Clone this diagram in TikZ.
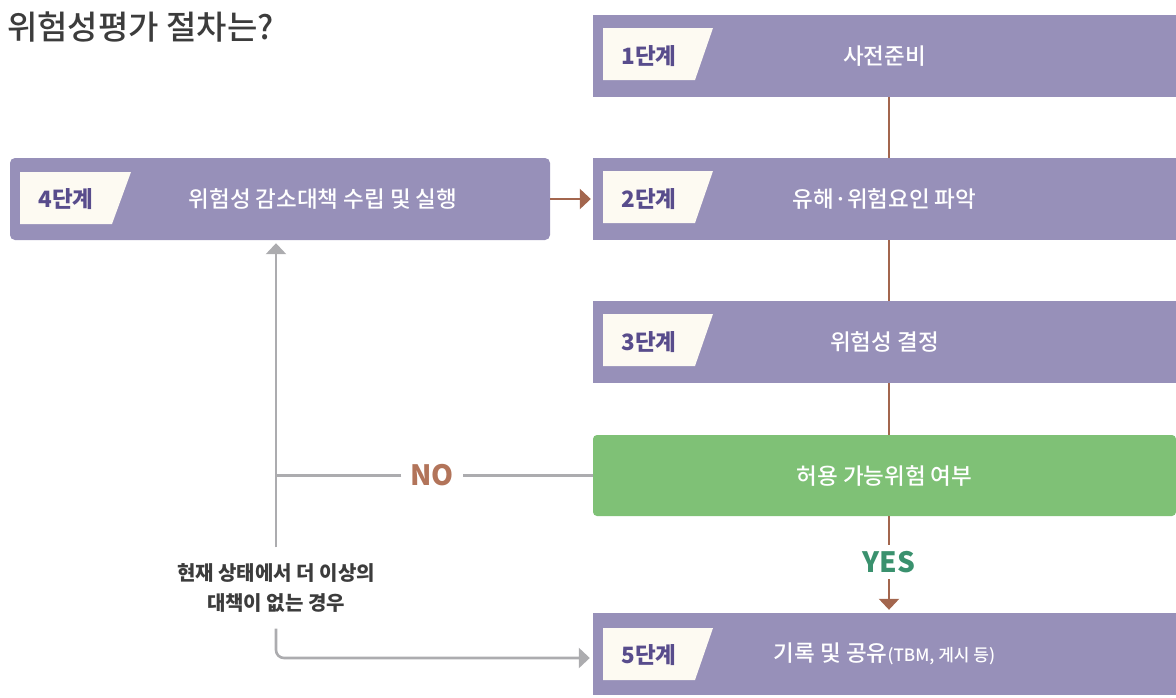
\documentclass[tikz,border=0pt]{standalone}
\usepackage{fontspec}
\setmainfont{Noto Sans CJK KR}
\newfontfamily\krmedium{Noto Sans CJK KR Medium}
\usetikzlibrary{arrows.meta}
\definecolor{steppurple}{RGB}{151,144,185}
\definecolor{labelcream}{RGB}{253,250,242}
\definecolor{labelink}{RGB}{88,76,140}
\definecolor{flowbrown}{RGB}{163,102,78}
\definecolor{nobrown}{RGB}{178,116,90}
\definecolor{yesgreen}{RGB}{58,145,110}
\definecolor{checkgreen}{RGB}{127,193,118}
\definecolor{loopgray}{RGB}{172,172,175}
\definecolor{textgray}{RGB}{60,60,60}

\tikzset{
  stepbox/.style={fill=steppurple, minimum width=583, minimum height=82, inner sep=0,
    text=white, font=\krmedium\fontsize{22.5}{22.5}\selectfont},
  steptag/.style={text=labelink, inner sep=0, font=\bfseries\fontsize{22.5}{22.5}\selectfont},
  flowline/.style={flowbrown, line width=2.4pt},
  loopline/.style={loopgray, line width=2.6pt},
  browntip/.style={-{Triangle[length=11pt,width=20pt]}},
}

\begin{document}
\begin{tikzpicture}[x=1pt, y=-1pt]
    \useasboundingbox (0,0) rectangle (1176,697);

    % Title
    \node[textgray, anchor=west, inner sep=0, font=\krmedium\fontsize{33}{33}\selectfont] (title) at (7,27) {위험성평가 절차는?};

    % Step boxes on the right
    \node[stepbox] (s1) at (884.5,56) {사전준비};
    \node[stepbox] (s2) at (884.5,199) {유해·위험요인 파악};
    \node[stepbox] (s3) at (884.5,342) {위험성 결정};
    \node[stepbox, fill=checkgreen, rounded corners=4, minimum height=81] (chk) at (884.5,475.5) {허용 가능위험 여부};
    \node[stepbox] (s5) at (884.5,654) {기록 및 공유\fontsize{17}{17}\selectfont(TBM, 게시 등)};

    % Step 4 box on the left
    \node[stepbox, minimum width=540, rounded corners=5] (s4) at (280,199) {};
    \node[stepbox, fill=none, minimum width=0] (t4) at (323,199) {위험성 감소대책 수립 및 실행};

    % Cream step tags
    \fill[labelcream] (603,28) -- (713,28) -- (695,80) -- (603,80) -- cycle;
    \node[steptag] (tag1) at (649,56) {1단계};
    \fill[labelcream] (603,171) -- (713,171) -- (695,223) -- (603,223) -- cycle;
    \node[steptag] (tag2) at (649,199) {2단계};
    \fill[labelcream] (603,314) -- (713,314) -- (695,366) -- (603,366) -- cycle;
    \node[steptag] (tag3) at (649,342) {3단계};
    \fill[labelcream] (603,628) -- (713,628) -- (695,680) -- (603,680) -- cycle;
    \node[steptag] (tag5) at (649,655) {5단계};
    \fill[labelcream] (20,172) -- (131,172) -- (112,224) -- (20,224) -- cycle;
    \node[steptag] (tag4) at (66,199) {4단계};

    % Main flow
    \coordinate (spine) at (889,0);
    \draw[flowline] (s1.south -| spine) -- (s2.north -| spine);
    \draw[flowline] (s2.south -| spine) -- (s3.north -| spine);
    \draw[flowline] (s3.south -| spine) -- (chk.north -| spine);
    \node[yesgreen, inner sep=0, minimum height=34, font=\bfseries\fontsize{28}{28}\selectfont] (yes) at (889,562) {YES};
    \draw[flowline] (chk.south -| spine) -- (yes.north);
    \draw[flowline, browntip, shorten >=3pt] (yes.south) -- (s5.north -| spine);
    \draw[flowline, browntip, shorten >=2pt] (s4.east) -- (s2.west);

    % Loop back when not acceptable
    \node[nobrown, inner sep=0, minimum width=61, font=\bfseries\fontsize{28}{28}\selectfont] (no) at (432,475.5) {NO};
    \node[textgray, align=center, inner sep=0, minimum height=81,
          font=\bfseries\fontsize{20}{30}\selectfont] (cond) at (276,588) {현재 상태에서 더 이상의\\대책이 없는 경우};
    \draw[loopline] (chk.west) -- (no.east);
    \draw[loopline] (no.west) -- (no.west -| cond.north);
    \draw[loopline, browntip, shorten >=3pt] (cond.north) -- (s4.south -| cond.north);
    \draw[loopline, browntip, rounded corners=8, shorten >=3pt] (cond.south) |- ([yshift=-4pt]s5.west);
\end{tikzpicture}
\end{document}
